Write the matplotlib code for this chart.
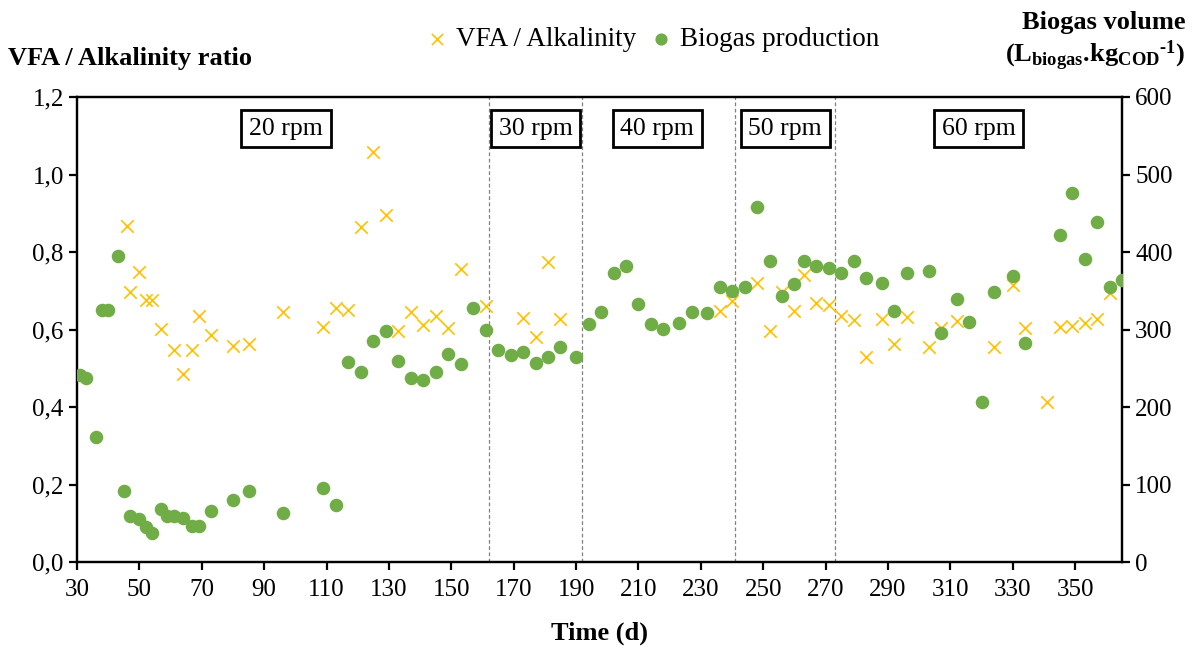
import matplotlib
matplotlib.use("Agg")
import matplotlib.pyplot as plt
from matplotlib.ticker import FuncFormatter, MultipleLocator

plt.rcParams['font.family'] = ['Liberation Serif', 'DejaVu Serif']
plt.rcParams['mathtext.fontset'] = 'custom'
plt.rcParams['mathtext.rm'] = 'Liberation Serif'
plt.rcParams['mathtext.bf'] = 'Liberation Serif:bold'

# biogas production (right axis)
bio_days = [31, 33, 36, 38, 40, 43, 45, 47, 50, 52, 54, 57, 59, 61, 64, 67, 69, 73,
            80, 85, 96, 109, 113, 117, 121, 125, 129, 133, 137, 141, 145, 149, 153, 157,
            161, 165, 169, 173, 177, 181, 185, 190, 194, 198, 202, 206, 210, 214, 218, 223,
            227, 232, 236, 240, 244, 248, 252, 256, 260, 263, 267, 271, 275, 279, 283, 288,
            292, 296, 303, 307, 312, 316, 320, 324, 330, 334, 345, 349, 353, 357, 361, 365]
bio_vals = [241, 237, 161, 325, 325, 395, 91, 60, 55, 45, 37, 69, 60, 60, 57, 46, 46, 66,
            80, 91, 63, 96, 73, 258, 245, 285, 298, 259, 238, 235, 245, 268, 256, 328,
            300, 274, 267, 271, 257, 265, 277, 264, 307, 323, 373, 382, 333, 307, 301, 308,
            323, 321, 355, 350, 355, 458, 389, 343, 359, 388, 382, 379, 373, 389, 367, 360,
            324, 373, 375, 296, 340, 310, 207, 349, 369, 282, 422, 476, 391, 439, 355, 364]

# VFA / alkalinity ratio (left axis)
vfa_days = [46, 47, 50, 52, 54, 57, 61, 64, 67, 69, 73, 80, 85, 96, 109, 113, 117, 121,
            125, 129, 133, 137, 141, 145, 149, 153, 161, 173, 177, 181, 185, 236, 240, 248,
            252, 256, 260, 263, 267, 271, 275, 279, 283, 288, 292, 296, 303, 307, 312, 324,
            330, 334, 341, 345, 349, 353, 357, 361]
vfa_vals = [0.868, 0.698, 0.748, 0.677, 0.677, 0.601, 0.546, 0.484, 0.548, 0.634, 0.587,
            0.557, 0.563, 0.644, 0.606, 0.656, 0.651, 0.864, 1.057, 0.896, 0.597, 0.645,
            0.611, 0.634, 0.604, 0.756, 0.661, 0.630, 0.580, 0.775, 0.626, 0.647, 0.673,
            0.721, 0.597, 0.696, 0.647, 0.741, 0.669, 0.662, 0.634, 0.625, 0.530, 0.627,
            0.563, 0.632, 0.556, 0.604, 0.623, 0.555, 0.716, 0.603, 0.413, 0.606, 0.610,
            0.617, 0.628, 0.694]

# stirring speed phases
phase_breaks = [162, 192, 241, 273]
phase_labels = ['20 rpm', '30 rpm', '40 rpm', '50 rpm', '60 rpm']
phase_label_x = [97, 177, 216, 257, 319]

fig = plt.figure(figsize=(11.93, 6.51), dpi=100)
ax = fig.add_axes([0.0645, 0.1367, 0.876, 0.7143])
ax2 = ax.twinx()

vfa = ax.scatter(vfa_days, vfa_vals, marker='x', s=80, color='#FFC000',
                 linewidths=1.2, label='VFA / Alkalinity', zorder=3)
bio = ax2.scatter(bio_days, bio_vals, marker='o', s=95, color='#70AD47',
                  linewidths=0, label='Biogas production', zorder=3)

for xb in phase_breaks:
    ax.axvline(xb, color='#808080', linestyle=(0, (3, 2)), linewidth=0.9, zorder=1)

for lab, xl in zip(phase_labels, phase_label_x):
    ax.text(xl, 1.118, lab, ha='center', va='center', fontsize=18.5, zorder=5,
            bbox=dict(boxstyle='square,pad=0.3', facecolor='white',
                      edgecolor='black', linewidth=2))

ax.set_xlim(30, 365)
ax.set_ylim(0, 1.2)
ax2.set_ylim(0, 600)
ax.set_xticks(range(30, 351, 20))
ax.yaxis.set_major_locator(MultipleLocator(0.2))
ax.yaxis.set_major_formatter(FuncFormatter(lambda v, p: f"{v:.1f}".replace('.', ',')))
ax2.yaxis.set_major_locator(MultipleLocator(100))

for a in (ax, ax2):
    for sp in a.spines.values():
        sp.set_linewidth(1.6)
    a.tick_params(direction='out', length=6, width=1.6, labelsize=18)
ax.tick_params(axis='x', pad=6)

ax.set_xlabel('Time (d)', fontsize=19, fontweight='bold', labelpad=15)

fig.text(0.007, 0.910, 'VFA / Alkalinity ratio', fontsize=19, fontweight='bold',
         ha='left', va='center')
fig.text(0.994, 0.965, 'Biogas volume', fontsize=19, fontweight='bold',
         ha='right', va='center')
fig.text(0.994, 0.915, '$\\mathbf{(L_{biogas}.\\!kg_{COD}{}^{\u20101})}$', fontsize=19,
         ha='right', va='center')

fig.legend(handles=[vfa, bio], loc='center', bbox_to_anchor=(0.547, 0.939), ncol=2,
           frameon=False, fontsize=19.5, handlelength=0.8, handletextpad=0.3,
           columnspacing=0.5, markerscale=0.9)

fig.savefig('out.png', dpi=100)
